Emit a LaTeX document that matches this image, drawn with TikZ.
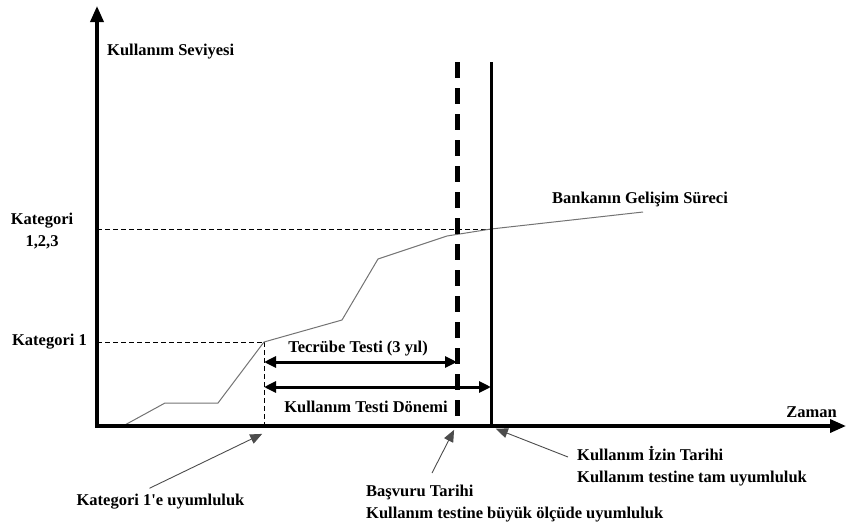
\documentclass[tikz,border=0pt]{standalone}
\usepackage{fontspec}
\setmainfont{Liberation Serif}[Ligatures=TeXOff]
\usetikzlibrary{arrows.meta}
\begin{document}
\begin{tikzpicture}[x=1pt,y=-1pt,
  lbl/.style={font=\bfseries\fontsize{16.5}{22}\selectfont, inner sep=0pt},
  axis/.style={line width=3.5pt, -{Triangle[length=16pt,width=13pt]}},
  guide/.style={dashed, line width=0.7pt, dash pattern=on 5pt off 3pt},
  dim/.style={line width=3pt, {Triangle[length=12pt,width=11pt]}-{Triangle[length=12pt,width=11pt]}},
  note/.style={draw=black!70, line width=0.9pt, -{Triangle[length=12pt,width=10pt]}, shorten >=2pt},
  curve/.style={draw=black!55, line width=1pt}]
\useasboundingbox (0,0) rectangle (846,523);
% coordinates
\coordinate (O) at (97,426);
\coordinate (ytip) at (97,6);
\coordinate (xtip) at (846,426);
\coordinate (p0) at (123,426);
\coordinate (p1) at (165,403);
\coordinate (p2) at (218,403);
\coordinate (p3) at (264,342);
\coordinate (p4) at (342,320);
\coordinate (p5) at (378,259);
\coordinate (p6) at (447,236);
\coordinate (p7) at (491,229);
\coordinate (p8) at (643,212);
\coordinate (k1) at (97,342);
\coordinate (k3) at (97,229);
\coordinate (p3b) at (264,426);
\coordinate (dtop) at (457.5,62);
\coordinate (dbot) at (457.5,424);
\coordinate (stop) at (491.5,62);
\coordinate (sbot) at (491.5,428);
\coordinate (a1l) at (264,362);
\coordinate (a1r) at (457,362);
\coordinate (a2l) at (264,387);
\coordinate (a2r) at (491,387);
% guides
\draw[guide] (k3) -- (p7);
\draw[guide] (k1) -- (p3);
\draw[guide] (p3) -- (p3b);
% curve
\draw[curve] (p0) -- (p1) -- (p2) -- (p3) -- (p4) -- (p5) -- (p6) -- (p7) -- (p8);
% vertical lines
\draw[line width=5.5pt, dash pattern=on 16pt off 10pt] (dtop) -- (dbot);
\draw[line width=3.5pt] (stop) -- (sbot);
% axes
\draw[axis] (O) -- (ytip);
\draw[axis] ([xshift=-1.75pt]O) -- (xtip);
% dimension arrows
\draw[dim] (a1l) -- (a1r);
\draw[dim] (a2l) -- (a2r);
% labels
\node[lbl, anchor=west] (ylab) at (107,52) {Kullanım Seviyesi};
\node[lbl, anchor=east] (xlab) at (837,412) {Zaman};
\node[lbl, align=center] (kat3) at (42,231) {Kategori\\1,2,3};
\node[lbl] (kat1) at (49.5,342) {Kategori 1};
\node[lbl] (bank) at (640,199) {Bankanın Gelişim Süreci};
\node[lbl] (tec) at (358,349) {Tecrübe Testi (3 yıl)};
\node[lbl] (kul) at (366,407) {Kullanım Testi Dönemi};
\node[lbl] (n1) at (160.5,502) {Kategori 1'e uyumluluk};
\node[lbl, anchor=north west, align=left] (n2) at (366,485) {Başvuru Tarihi\\Kullanım testine büyük ölçüde uyumluluk};
\node[lbl, anchor=north west, align=left] (n3) at (577,446) {Kullanım İzin Tarihi\\Kullanım testine tam uyumluluk};
% annotation arrows
\coordinate (t1) at (264,433);
\coordinate (t2) at (455,428);
\coordinate (t3) at (494,428);
\draw[note] ([xshift=-11pt,yshift=6pt]n1.north) -- (t1);
\draw[note] ([xshift=66pt,yshift=12pt]n2.north west) -- (t2);
\draw[note] ([xshift=-9pt,yshift=-11pt]n3.north west) -- (t3);
\end{tikzpicture}
\end{document}
